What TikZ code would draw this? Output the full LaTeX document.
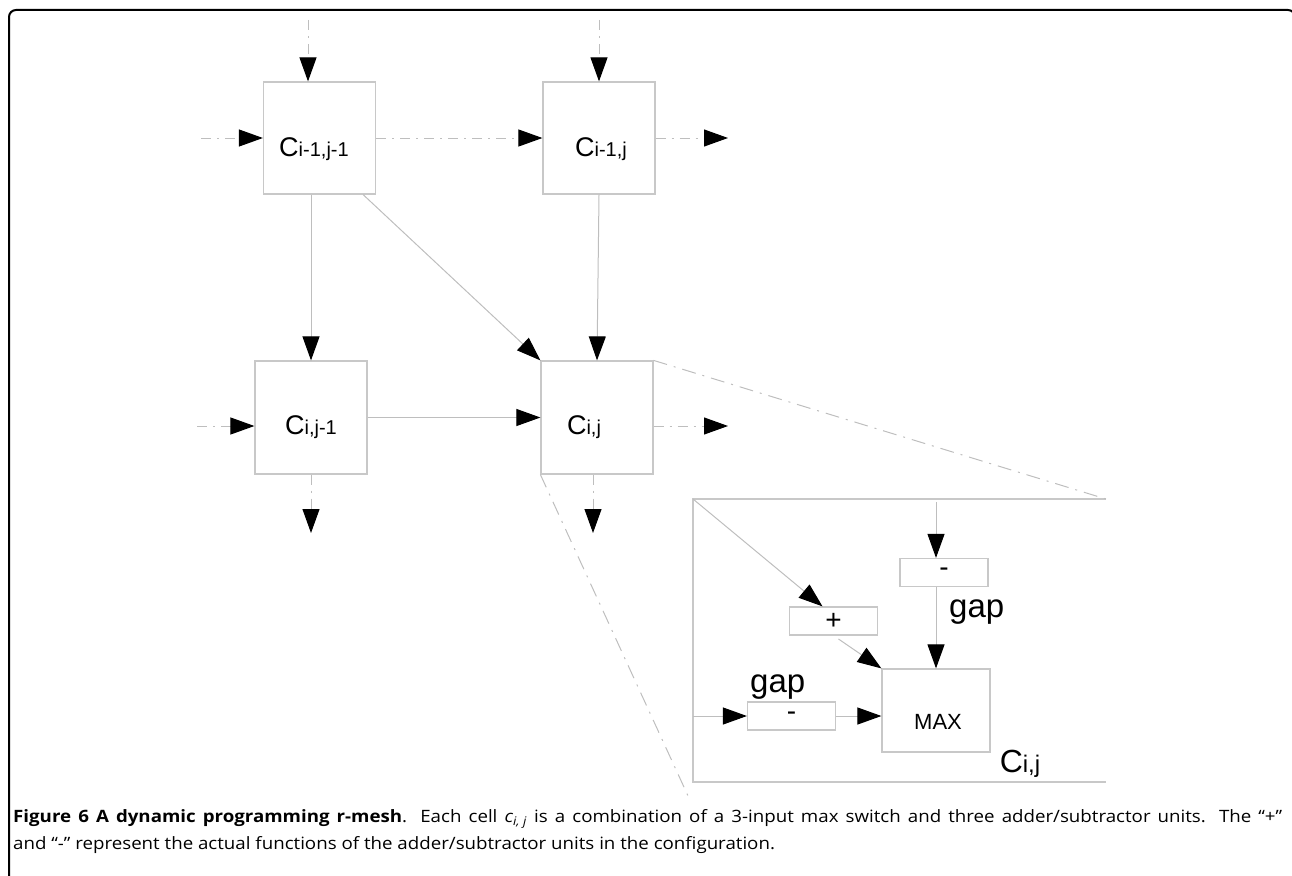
\documentclass[tikz,border=0pt]{standalone}
\usepackage{fontspec}
\setmainfont{Liberation Sans}
\newfontfamily\capfont[FakeStretch=1.1]{Open Sans}
\usepackage{tikz}
\usetikzlibrary{positioning,arrows.meta,calc}
\usepackage{xcolor}
\definecolor{boxline}{RGB}{200,200,200}
\definecolor{wire}{RGB}{190,190,190}
\newcommand{\cellname}[1]{{\fontsize{27}{27}\selectfont C}{\fontsize{20}{20}\selectfont #1}}
\newcommand{\bigcellname}[1]{{\fontsize{32}{32}\selectfont C}{\fontsize{24}{24}\selectfont #1}}
\newcommand{\capsize}{\capfont\fontsize{17pt}{20pt}\selectfont}

\begin{document}
\begin{tikzpicture}[
    x=1pt, y=-1pt,
    cell/.style={draw=boxline, line width=1.2pt, minimum width=112pt, minimum height=112pt, inner sep=0pt},
    unit/.style={draw=boxline, line width=1.2pt, minimum width=88pt, minimum height=28pt, inner sep=0pt, font=\fontsize{28}{28}\selectfont},
    celltxt/.style={anchor=base, inner sep=0pt},
    gaptxt/.style={anchor=base west, inner sep=0pt, font=\fontsize{33}{33}\selectfont},
    arrow/.style={draw=wire, line width=1pt, -{Triangle[length=24pt,width=17pt,color=black]}},
    dotarrow/.style={arrow, dash pattern=on 10pt off 6pt on 2pt off 6pt},
    proj/.style={draw=wire, line width=1pt, dash pattern=on 14pt off 7pt on 2pt off 7pt},
    captxt/.style={anchor=west, inner sep=0pt, font=\capsize}
]
    \useasboundingbox (0,0) rectangle (1292,875);
    \clip (0,0) rectangle (1292,875);
    \draw[line width=2pt, rounded corners=7pt] (9,10) rectangle (1295,900);

    % mesh cells
    \node[cell] (c11) at (319.5,138) {};
    \node[cell] (c12) at (599,138) {};
    \node[cell, minimum height=113pt] (c21) at (311,417.5) {};
    \node[cell, minimum height=113pt] (c22) at (597,417.5) {};
    \node[celltxt] (n11) at (314,156) {\cellname{i-1,j-1}};
    \node[celltxt] (n12) at (601,156) {\cellname{i-1,j}};
    \node[celltxt] (n21) at (311,434) {\cellname{i,j-1}};
    \node[celltxt] (n22) at (584,434) {\cellname{i,j}};

    % free ends
    \coordinate (t11) at (308,20);
    \coordinate (t12) at (599,20);
    \coordinate (w11) at (201,138);
    \coordinate (e12) at (728,138);
    \coordinate (w21) at (197,426);
    \coordinate (e22) at (728,426);
    \coordinate (s21) at (311,533);
    \coordinate (s22) at (593,533);

    \draw[dotarrow] (t11) -- (t11 |- c11.north);
    \draw[dotarrow] (t12) -- (c12.north);
    \draw[dotarrow] (w11) -- (c11.west);
    \draw[dotarrow] (c11.east) -- (c12.west);
    \draw[dotarrow] (c12.east) -- (e12);
    \draw[arrow] (c11.south -| c21) -- (c21.north);
    \draw[arrow] ($(c11.south east)+(-13,0)$) -- (c22.north west);
    \draw[arrow] (c12.south) -- (c22.north);
    \draw[dotarrow] (w21) -- (w21 -| c21.west);
    \draw[arrow] (c21.east) -- (c22.west);
    \draw[dotarrow] (c22.east |- e22) -- (e22);
    \draw[dotarrow] (c21.south) -- (s21);
    \draw[dotarrow] (c22.south -| s22) -- (s22);

    % zoomed cell
    \coordinate (iA) at (693,499);
    \coordinate (iB) at (1106,499);
    \coordinate (iC) at (693,782);
    \coordinate (iD) at (1106,782);
    \draw[boxline, line width=1.2pt] (iB) -- (iA) -- (iC) -- (iD);
    \draw[proj] (c22.north east) -- (iB);
    \draw[proj] (c22.south west) -- ($(iC)+(-4,16)$);

    \node[unit] (plus) at (833.5,621) {+};
    \node[unit] (subv) at (944,572.5) {-};
    \node[unit] (subh) at (791.5,716) {-};
    \node[draw=boxline, line width=1.2pt, minimum width=108pt, minimum height=83pt, inner sep=0pt] (max) at (936,710.5) {};
    \node[font=\fontsize{22}{22}\selectfont, inner sep=0pt] (maxtxt) at (938,722) {MAX};
    \node[gaptxt] (gapv) at (949,617) {gap};
    \node[gaptxt] (gaph) at (750,692) {gap};
    \node[celltxt] (ncij) at (1020,772) {\bigcellname{i,j}};

    \coordinate (vin) at (936,502);
    \coordinate (hin) at (693,716);
    \draw[arrow] (vin) -- (vin |- subv.north);
    \draw[arrow] (subv.south -| max) -- (max.north);
    \draw[arrow] (iA) -- ($(plus.north)+(-11,0)$);
    \draw[arrow, shorten <=6pt] (plus.south) -- (max.north west);
    \draw[arrow] (hin) -- (subh.west);
    \draw[arrow] (subh.east) -- (subh.east -| max.west);

    % caption
    \node[captxt] (cap1) at (13,819) {\makebox[1269pt][s]{\textbf{Figure 6 A dynamic programming r-mesh}. Each cell \textit{c}\textsubscript{\textit{i, j}} is a combination of a 3-input max switch and three adder/subtractor units. The “+”}};
    \node[captxt] (cap2) at (13,845) {and “-” represent the actual functions of the adder/subtractor units in the configuration.};
\end{tikzpicture}
\end{document}
